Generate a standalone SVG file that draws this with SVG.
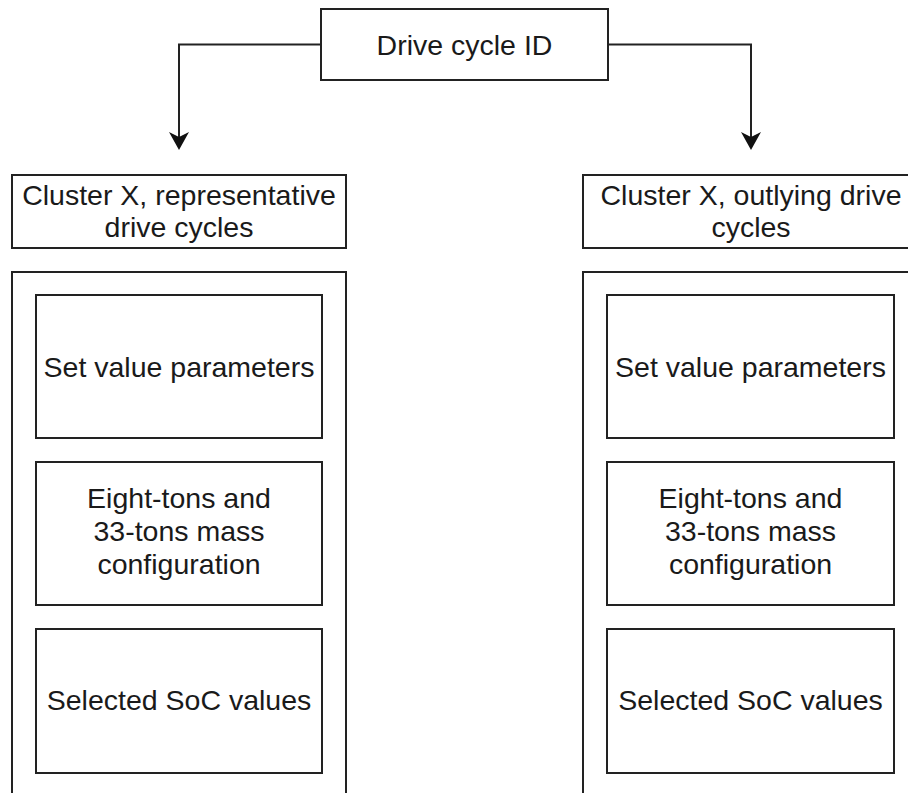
<svg xmlns="http://www.w3.org/2000/svg" width="908" height="793" viewBox="0 0 908 793">
  <defs>
    <style>
      .box { fill: #ffffff; stroke: #222222; stroke-width: 2; }
      .edge { fill: none; stroke: #222222; stroke-width: 2; }
      .head { fill: #111111; }
      .lbl { font-family: "Liberation Sans", Arial, Helvetica, sans-serif; font-size: 28.5px; fill: #1a1a1a; text-anchor: middle; }
    </style>
  </defs>
  <rect width="908" height="793" fill="#ffffff"/>

  <!-- connectors: root box splits to both cluster headers -->
  <g id="connectors">
    <path class="edge" d="M321,44.5 H179 V146"/>
    <path class="head" d="M169,132 L179,137 L189,132 L179,150 Z"/>
    <path class="edge" d="M608,44.5 H751 V146"/>
    <path class="head" d="M741,132 L751,137 L761,132 L751,150 Z"/>
  </g>

  <!-- root -->
  <g id="drive-cycle-id">
    <rect class="box" x="321" y="9" width="287" height="71"/>
    <text class="lbl" x="464.5" y="55">Drive cycle ID</text>
  </g>

  <!-- left branch -->
  <g id="representative-header">
    <rect class="box" x="12" y="175" width="334" height="73"/>
    <text class="lbl" x="179" y="205">Cluster X, representative</text>
    <text class="lbl" x="179" y="237">drive cycles</text>
  </g>
  <g id="representative-container">
    <rect class="box" x="12" y="272" width="334" height="540"/>
  </g>
  <g id="representative-set-values">
    <rect class="box" x="36" y="295" width="286" height="143"/>
    <text class="lbl" x="179" y="376.5">Set value parameters</text>
  </g>
  <g id="representative-mass">
    <rect class="box" x="36" y="462" width="286" height="143"/>
    <text class="lbl" x="179" y="508">Eight-tons and</text>
    <text class="lbl" x="179" y="541">33-tons mass</text>
    <text class="lbl" x="179" y="574">configuration</text>
  </g>
  <g id="representative-soc">
    <rect class="box" x="36" y="629" width="286" height="144"/>
    <text class="lbl" x="179" y="710">Selected SoC values</text>
  </g>

  <!-- right branch -->
  <g id="outlying-header">
    <rect class="box" x="583" y="175" width="336" height="73"/>
    <text class="lbl" x="751" y="205">Cluster X, outlying drive</text>
    <text class="lbl" x="751" y="237">cycles</text>
  </g>
  <g id="outlying-container">
    <rect class="box" x="583" y="272" width="336" height="540"/>
  </g>
  <g id="outlying-set-values">
    <rect class="box" x="607" y="295" width="287" height="143"/>
    <text class="lbl" x="750.5" y="376.5">Set value parameters</text>
  </g>
  <g id="outlying-mass">
    <rect class="box" x="607" y="462" width="287" height="143"/>
    <text class="lbl" x="750.5" y="508">Eight-tons and</text>
    <text class="lbl" x="750.5" y="541">33-tons mass</text>
    <text class="lbl" x="750.5" y="574">configuration</text>
  </g>
  <g id="outlying-soc">
    <rect class="box" x="607" y="629" width="287" height="144"/>
    <text class="lbl" x="750.5" y="710">Selected SoC values</text>
  </g>
</svg>
